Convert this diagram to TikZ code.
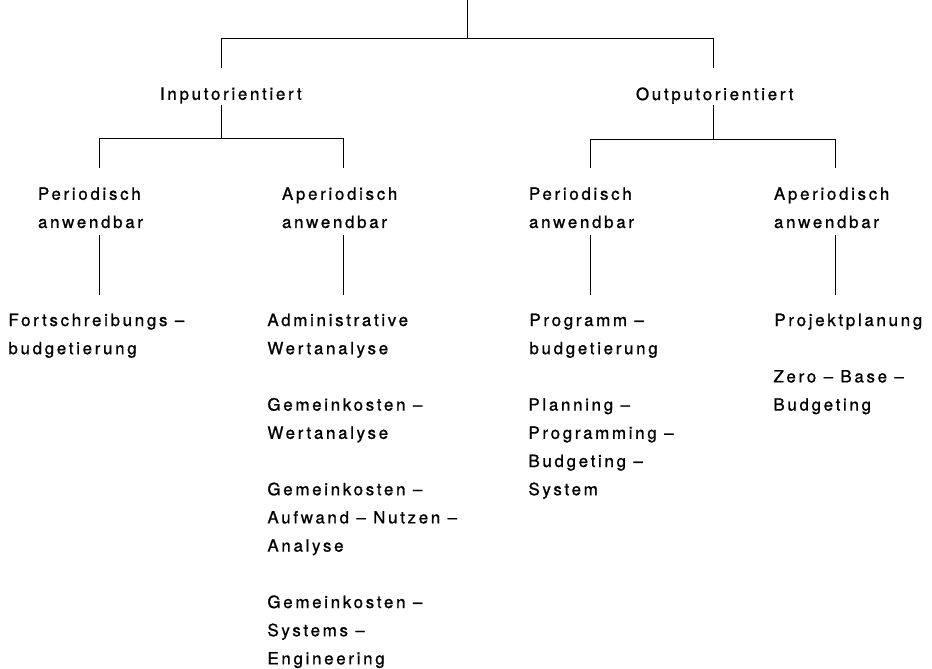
\documentclass[tikz,border=0pt]{standalone}
\usepackage{fontspec}
\newfontfamily\hel{TeX Gyre Heros}[LetterSpace=16,FakeBold=1]
\usepackage{tikz}

\begin{document}
\begin{tikzpicture}[x=1pt, y=-1pt, line width=0.9pt,
  txt/.style={font=\hel\fontsize{16.9}{28.2}\selectfont, inner sep=0pt, align=left},
  head/.style={txt, anchor=north, text width=122pt},
  leaf/.style={txt, anchor=base west},
  tie/.style={shorten >=19pt},
  stem/.style={shorten <=1pt},
  twig/.style={shorten <=6pt, shorten >=18pt}]
\useasboundingbox (0,0) rectangle (932,669);

% erste Verzweigung
\coordinate (root) at (467,0);
\coordinate (fork) at (467,38);
\coordinate (forkL) at (221,38);
\coordinate (forkR) at (713,38);
\draw (root) -- (fork);
\draw (forkL) -- (forkR);

\node[head] (inp) at (221,87) {Inputorientiert};
\node[head, text width=154pt] (outp) at (713,87) {Outputorientiert};
\draw[tie] (forkL) -- (inp.north);
\draw[tie] (forkR) -- (outp.north);

% zweite Ebene
\coordinate (inFork) at (221,138);
\coordinate (inL) at (99,138);
\coordinate (inR) at (343,138);
\coordinate (outFork) at (713,139);
\coordinate (outL) at (590,139);
\coordinate (outR) at (835,139);
\draw[stem] (inp.south) -- (inFork);
\draw[stem] (outp.south) -- (outFork);
\draw (inL) -- (inR);
\draw (outL) -- (outR);

\node[head] (pa) at (99,187) {Periodisch\\anwendbar};
\node[head] (ap) at (343,187) {Aperiodisch\\anwendbar};
\node[head] (pb) at (590,187) {Periodisch\\anwendbar};
\node[head] (aq) at (835,187) {Aperiodisch\\anwendbar};
\draw[tie] (inL) -- (pa.north);
\draw[tie] (inR) -- (ap.north);
\draw[tie] (outL) -- (pb.north);
\draw[tie] (outR) -- (aq.north);

% Verfahren (base = Grundlinie der letzten Zeile)
\node[leaf] (fo) at (8,354.2) {Fortschreibungs –\\budgetierung};
\node[leaf] (aw) at (267,354.2) {Administrative\\Wertanalyse};
\node[leaf] (gw) at (267,438.8) {Gemeinkosten –\\Wertanalyse};
\node[leaf] (gn) at (267,551.6) {Gemeinkosten –\\Aufwand – Nutzen –\\Analyse};
\node[leaf] (gs) at (267,664.4) {Gemeinkosten –\\Systems –\\Engineering};
\node[leaf] (pg) at (529,354.2) {Programm –\\budgetierung};
\node[leaf] (ppb) at (528,495.2) {Planning –\\Programming –\\Budgeting –\\System};
\node[leaf] (pp) at (774,326) {Projektplanung};
\node[leaf] (zbb) at (773,410.6) {Zero – Base –\\Budgeting};

\draw[twig] (pa.south) -- (pa.south |- fo.north);
\draw[twig] (ap.south) -- (ap.south |- aw.north);
\draw[twig] (pb.south) -- (pb.south |- pg.north);
\draw[twig] (aq.south) -- (aq.south |- pp.north);
\end{tikzpicture}
\end{document}
